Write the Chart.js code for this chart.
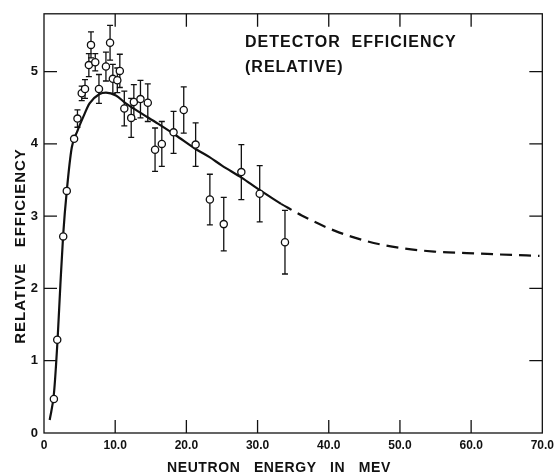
<!DOCTYPE html>
<html>
<head>
<meta charset="utf-8">
<script src="https://cdn.jsdelivr.net/npm/chart.js@4.4.1/dist/chart.umd.min.js"></script>
<style>
  html, body { margin: 0; padding: 0; background: #fff; }
  #wrap { width: 559px; height: 474px; }
</style>
</head>
<body>
<div id="wrap"><canvas id="effChart" width="559" height="474"></canvas></div>
<script>
// measured points (neutron energy MeV, relative efficiency, +/- error)
const energy = [1.39, 1.86, 2.7, 3.2, 4.23, 4.7, 5.3, 5.76, 6.3, 6.6, 7.2, 7.72, 8.7, 9.28, 9.67, 10.3, 10.65,
  11.28, 12.25, 12.62, 13.55, 14.58, 15.6, 16.55, 18.2, 19.63, 21.3, 23.3, 25.25, 27.72, 30.3, 33.85];
const efficiency = [0.47, 1.29, 2.72, 3.35, 4.07, 4.35, 4.70, 4.76, 5.09, 5.37, 5.13, 4.76, 5.07, 5.40, 4.90, 4.88, 5.01,
  4.49, 4.36, 4.58, 4.62, 4.57, 3.92, 4.00, 4.16, 4.47, 3.99, 3.23, 2.89, 3.61, 3.31, 2.64];
const errors = [0, 0, 0, 0, 0, 0.12, 0.10, 0.13, 0.16, 0.18, 0.12, 0.20, 0.20, 0.24, 0.20, 0.17, 0.23,
  0.24, 0.27, 0.24, 0.26, 0.26, 0.30, 0.31, 0.29, 0.32, 0.30, 0.35, 0.37, 0.38, 0.39, 0.44];

// fitted curve, solid part
const curveE = [0.8, 1.4, 1.9, 2.3, 2.7, 3.2, 3.9, 4.7, 5.5, 6.4, 7.8, 8.7, 10.1, 11.5, 13.4, 16.0, 18.5, 21.3,
  23.2, 25.0, 27.8, 30.0, 33.3];
const curveEff = [0.18, 0.55, 1.28, 2.05, 2.75, 3.35, 3.95, 4.18, 4.37, 4.56, 4.69, 4.71, 4.67, 4.56, 4.44, 4.28, 4.12, 3.93,
  3.82, 3.70, 3.53, 3.38, 3.17];
// extrapolated part (dashed)
const dashE = [33.3, 36.2, 40.8, 45.5, 50.1, 54.8, 59.4, 64.1, 69.6];
const dashEff = [3.17, 3.01, 2.80, 2.65, 2.56, 2.51, 2.49, 2.47, 2.45];

const xTickValues = [0, 10, 20, 30, 40, 50, 60, 70];
const yTickValues = [0, 1, 2, 3, 4, 5];

const titleLines = ['DETECTOR  EFFICIENCY', '(RELATIVE)'];
const xTitle = 'NEUTRON   ENERGY   IN   MEV';
const yTitle = 'RELATIVE   EFFICIENCY';

const FONT = "'Liberation Sans', Arial, sans-serif";
const INK = '#111';

const toXY = (xs, ys) => xs.map((x, i) => ({ x: x, y: ys[i] }));

// error bars under the points
const errorBars = {
  id: 'errorBars',
  beforeDatasetsDraw(chart) {
    const ctx = chart.ctx, xs = chart.scales.x, ys = chart.scales.y;
    ctx.save();
    ctx.strokeStyle = INK;
    ctx.lineWidth = 1.3;
    energy.forEach((e, i) => {
      if (!errors[i]) return;
      const px = xs.getPixelForValue(e);
      const top = ys.getPixelForValue(efficiency[i] + errors[i]);
      const bot = ys.getPixelForValue(efficiency[i] - errors[i]);
      ctx.beginPath();
      ctx.moveTo(px, top); ctx.lineTo(px, bot);
      ctx.moveTo(px - 3, top); ctx.lineTo(px + 3, top);
      ctx.moveTo(px - 3, bot); ctx.lineTo(px + 3, bot);
      ctx.stroke();
    });
    ctx.restore();
  }
};

// frame, inward ticks and the texts
const frameAndText = {
  id: 'frameAndText',
  afterDraw(chart) {
    const ctx = chart.ctx, a = chart.chartArea;
    const xs = chart.scales.x, ys = chart.scales.y;
    const len = 13;
    ctx.save();
    ctx.strokeStyle = INK;
    ctx.lineWidth = 1.3;
    ctx.strokeRect(a.left, a.top, a.right - a.left, a.bottom - a.top);
    ctx.beginPath();
    xTickValues.slice(1, -1).forEach(v => {
      const px = xs.getPixelForValue(v);
      ctx.moveTo(px, a.bottom); ctx.lineTo(px, a.bottom - len);
      ctx.moveTo(px, a.top); ctx.lineTo(px, a.top + len);
    });
    yTickValues.slice(1).forEach(v => {
      const py = ys.getPixelForValue(v);
      ctx.moveTo(a.left, py); ctx.lineTo(a.left + len, py);
      ctx.moveTo(a.right, py); ctx.lineTo(a.right - len, py);
    });
    ctx.stroke();

    ctx.fillStyle = INK;
    ctx.textAlign = 'left';
    ctx.textBaseline = 'alphabetic';
    ctx.letterSpacing = '1px';
    ctx.font = 'bold 16px ' + FONT;
    ctx.fillText(titleLines[0], 245, 47);
    ctx.fillText(titleLines[1], 245, 72);

    ctx.font = 'bold 14px ' + FONT;
    ctx.letterSpacing = '0.6px';
    ctx.fillText(xTitle, 167, 472);

    ctx.letterSpacing = '1px';
    ctx.font = 'bold 15px ' + FONT;
    ctx.translate(25, 246);
    ctx.rotate(-Math.PI / 2);
    ctx.textAlign = 'center';
    ctx.fillText(yTitle, 0, 0);
    ctx.restore();
  }
};

new Chart(document.getElementById('effChart'), {
  type: 'scatter',
  data: {
    datasets: [
      {
        label: 'measured',
        data: toXY(energy, efficiency),
        pointRadius: 3.6,
        pointBackgroundColor: '#fff',
        pointBorderColor: INK,
        pointBorderWidth: 1.3,
        showLine: false
      },
      {
        label: 'curve',
        data: toXY(curveE, curveEff),
        showLine: true,
        pointRadius: 0,
        borderColor: INK,
        borderWidth: 2.2,
        cubicInterpolationMode: 'monotone'
      },
      {
        label: 'extrapolated',
        data: toXY(dashE, dashEff),
        showLine: true,
        pointRadius: 0,
        borderColor: INK,
        borderWidth: 2.2,
        borderDash: [12, 7],
        cubicInterpolationMode: 'monotone'
      }
    ]
  },
  options: {
    responsive: false,
    animation: false,
    layout: { padding: { top: 13, right: 14, left: 0, bottom: 0 } },
    plugins: { legend: { display: false }, tooltip: { enabled: false } },
    scales: {
      x: {
        type: 'linear',
        min: 0,
        max: 70,
        afterFit(scale) { scale.height = 41; },
        afterBuildTicks(scale) { scale.ticks = xTickValues.map(v => ({ value: v })); },
        grid: { display: false, drawTicks: false },
        border: { display: false },
        ticks: {
          padding: 5,
          color: INK,
          maxRotation: 0,
          autoSkip: false,
          font: { family: FONT, size: 12, weight: 'bold' },
          callback: v => v === 0 ? '0' : v.toFixed(1)
        }
      },
      y: {
        type: 'linear',
        min: 0,
        max: 5.8,
        afterFit(scale) { scale.width = 44; },
        afterBuildTicks(scale) { scale.ticks = yTickValues.map(v => ({ value: v })); },
        grid: { display: false, drawTicks: false },
        border: { display: false },
        ticks: {
          padding: 6,
          color: INK,
          autoSkip: false,
          font: { family: FONT, size: 13, weight: 'bold' },
          callback: v => String(v)
        }
      }
    }
  },
  plugins: [errorBars, frameAndText]
});
</script>
</body>
</html>
